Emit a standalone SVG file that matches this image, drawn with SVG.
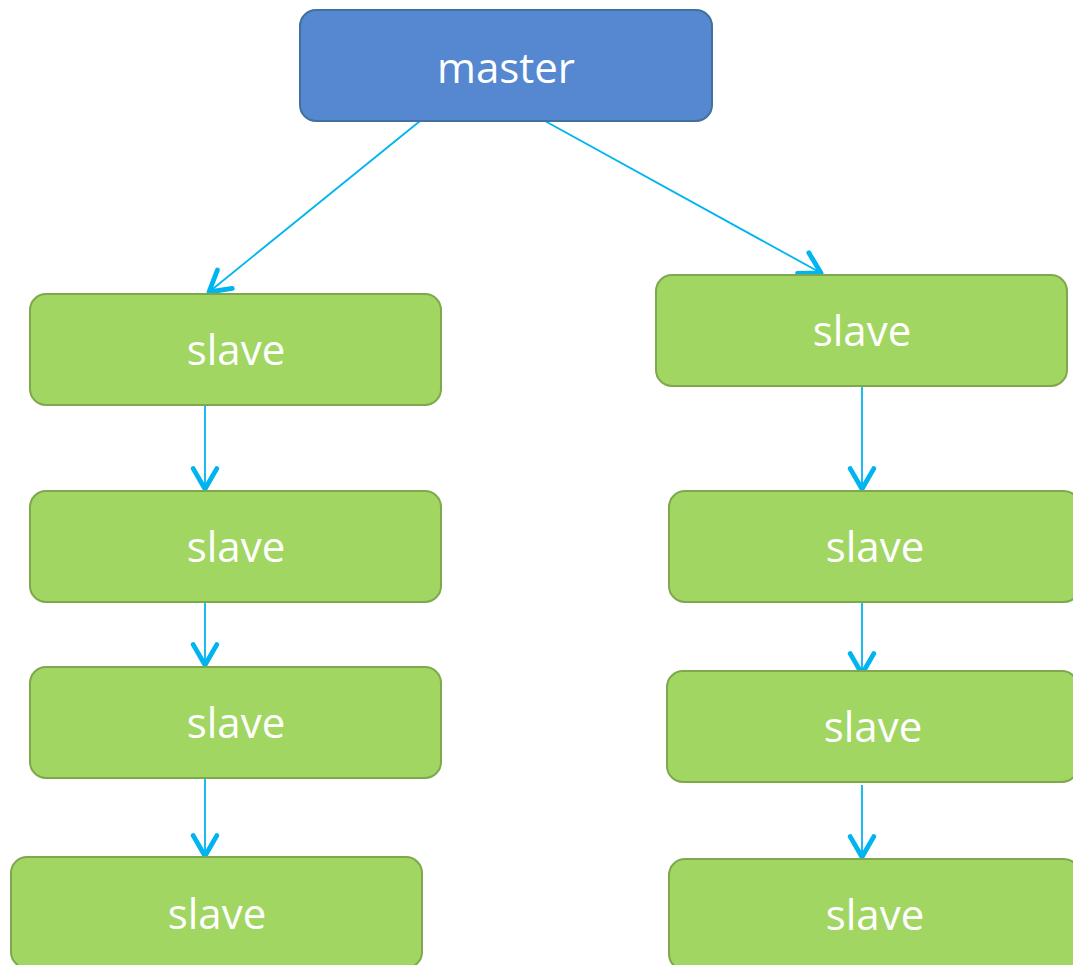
<svg xmlns="http://www.w3.org/2000/svg" width="1073" height="965" viewBox="0 0 1073 965">
<style>
.g rect{fill:#A2D662;stroke:#7FA84C;stroke-width:2}
.b rect{fill:#5588D0;stroke:#41719C;stroke-width:2}
text{font-family:"Open Sans","Noto Sans","DejaVu Sans",sans-serif;font-size:42px;fill:#fff;text-anchor:middle}
.c line{stroke:#00B4F0;stroke-width:1.8;fill:none}
</style>
<defs>
<marker id="a" markerUnits="userSpaceOnUse" markerWidth="30" markerHeight="30" viewBox="-22 -14 26 28" refX="0" refY="0" orient="auto">
<path d="M-19,-11 L0,0 L-19,11" fill="none" stroke="#00B4F0" stroke-width="4.5" stroke-linecap="round" stroke-linejoin="round"/>
</marker>
</defs>
<rect width="1073" height="965" fill="#fff"/>
<g class="c">
<line x1="420" y1="121" x2="209" y2="292" marker-end="url(#a)"/>
<line x1="545" y1="121" x2="821" y2="273" marker-end="url(#a)"/>
<line x1="205" y1="405" x2="205" y2="489" marker-end="url(#a)"/>
<line x1="205" y1="602" x2="205" y2="665" marker-end="url(#a)"/>
<line x1="205" y1="772" x2="205" y2="856" marker-end="url(#a)"/>
<line x1="862" y1="386" x2="862" y2="489" marker-end="url(#a)"/>
<line x1="862" y1="602" x2="862" y2="674" marker-end="url(#a)"/>
<line x1="862" y1="785" x2="862" y2="857" marker-end="url(#a)"/>
</g>
<g id="master" class="b"><rect x="300" y="10" width="412" height="111" rx="16"/><text x="506" y="83">master</text></g>
<g id="slave-l1" class="g"><rect x="30" y="294" width="411" height="111" rx="16"/><text x="236" y="365">slave</text></g>
<g id="slave-l2" class="g"><rect x="30" y="491" width="411" height="111" rx="16"/><text x="236" y="562">slave</text></g>
<g id="slave-l3" class="g"><rect x="30" y="667" width="411" height="111" rx="16"/><text x="236" y="738">slave</text></g>
<g id="slave-l4" class="g"><rect x="11" y="857" width="411" height="111" rx="16"/><text x="217" y="929">slave</text></g>
<g id="slave-r1" class="g"><rect x="656" y="275" width="411" height="111" rx="16"/><text x="862" y="346">slave</text></g>
<g id="slave-r2" class="g"><rect x="669" y="491" width="411" height="111" rx="16"/><text x="875" y="562">slave</text></g>
<g id="slave-r3" class="g"><rect x="667" y="671" width="411" height="111" rx="16"/><text x="873" y="742">slave</text></g>
<g id="slave-r4" class="g"><rect x="669" y="859" width="411" height="111" rx="16"/><text x="875" y="930">slave</text></g>
</svg>
